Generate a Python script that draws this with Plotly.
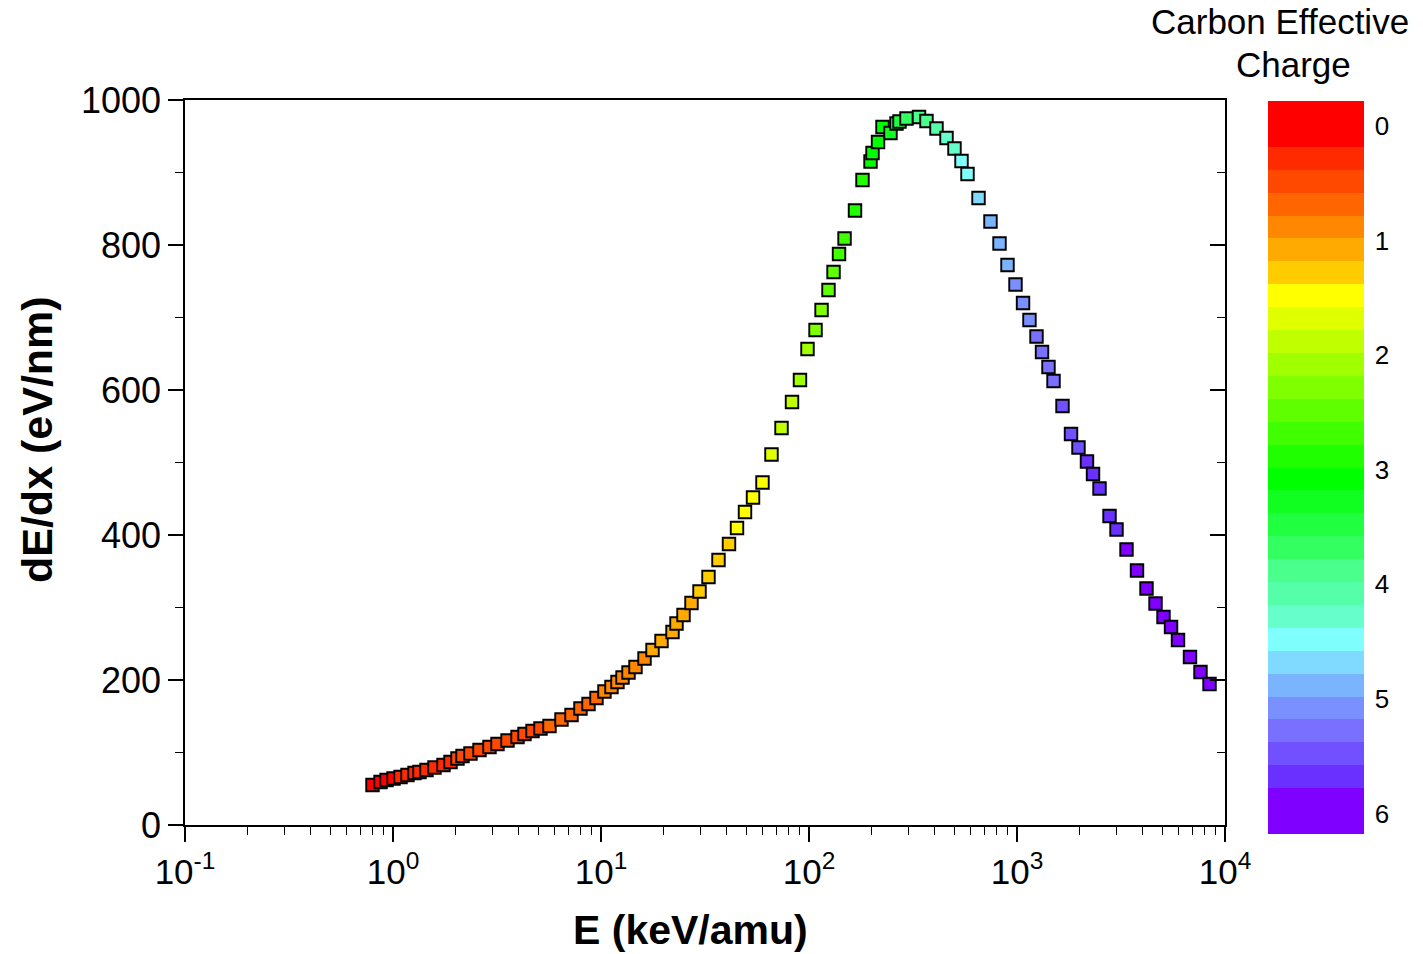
import plotly.graph_objects as go

# Stopping power of carbon ions vs. energy, coloured by effective charge
energy_kev_per_amu = [
    0.797, 0.871, 0.931, 1.006, 1.087, 1.174, 1.269, 1.341, 1.449, 1.583,
    1.749, 1.890, 2.042, 2.159, 2.358, 2.606, 2.910, 3.180, 3.553, 3.969,
    4.288, 4.686, 5.118, 5.655, 6.458, 7.215, 7.968, 8.709, 9.514, 10.39,
    11.23, 12.00, 12.69, 13.56, 14.65, 16.19, 17.69, 19.54, 22.07, 23.07,
    24.93, 27.23, 29.76, 32.87, 36.72, 41.24, 45.07, 49.24, 53.81, 59.76,
    66.02, 73.76, 82.85, 90.49, 98.35, 107.5, 114.9, 124.1, 131.2, 139.4,
    148.2, 166.4, 180.8, 197.6, 202.0, 214.7, 225.6, 246.5, 263.5, 272.4,
    294.3, 338.0, 367.1, 410.2, 458.3, 500.6, 541.0, 578.1, 653.1, 745.6,
    824.1, 900.2, 983.5, 1069, 1148, 1241, 1319, 1417, 1498, 1655,
    1818, 1975, 2170, 2320, 2493, 2785, 3009, 3361, 3775, 4194,
    4634, 5062, 5502, 5943, 6787, 7624, 8425,
]

dedx_ev_per_nm = [
    55.2, 59.3, 62.1, 64.1, 66.2, 69.0, 71.7, 73.1, 75.9, 79.3,
    82.8, 86.9, 91.7, 95.2, 98.6, 103.4, 107.6, 111.7, 116.6, 121.4,
    125.5, 129.7, 133.1, 136.6, 145.5, 151.7, 160.7, 166.9, 175.2, 184.1,
    190.3, 197.2, 203.4, 210.3, 217.9, 229.7, 241.4, 253.8, 266.2, 277.9,
    289.7, 306.2, 322.1, 342.1, 365.5, 387.6, 409.7, 431.7, 451.7, 472.4,
    511.0, 547.6, 583.4, 613.8, 656.6, 682.8, 710.3, 737.9, 762.8, 787.6,
    809.0, 847.6, 889.7, 915.2, 926.9, 942.1, 962.8, 954.5, 967.6, 970.3,
    974.5, 976.6, 971.0, 960.7, 947.6, 933.1, 915.9, 897.9, 864.8, 832.4,
    802.1, 772.4, 745.5, 720.0, 696.6, 673.8, 652.4, 631.7, 612.4, 577.9,
    539.3, 520.7, 501.4, 484.1, 464.1, 426.2, 407.6, 380.0, 351.0, 326.2,
    305.5, 286.9, 273.1, 255.2, 231.7, 211.0, 194.5,
]

effective_charge = [
    0.05, 0.10, 0.12, 0.15, 0.20, 0.22, 0.25, 0.27, 0.30, 0.32,
    0.34, 0.36, 0.38, 0.40, 0.42, 0.44, 0.46, 0.48, 0.50, 0.52,
    0.54, 0.56, 0.58, 0.60, 0.63, 0.66, 0.70, 0.73, 0.76, 0.80,
    0.83, 0.86, 0.88, 0.90, 0.93, 0.97, 1.00, 1.04, 1.08, 1.10,
    1.13, 1.17, 1.20, 1.25, 1.30, 1.35, 1.40, 1.45, 1.50, 1.55,
    1.65, 1.80, 1.92, 2.02, 2.12, 2.22, 2.30, 2.42, 2.52, 2.60,
    2.68, 2.82, 2.95, 3.05, 3.08, 3.10, 3.15, 3.30, 3.45, 3.55,
    3.65, 3.80, 3.95, 4.05, 4.20, 4.30, 4.45, 4.55, 4.68, 4.80,
    4.88, 4.95, 5.02, 5.08, 5.15, 5.20, 5.25, 5.30, 5.35, 5.42,
    5.50, 5.55, 5.60, 5.63, 5.66, 5.72, 5.75, 5.80, 5.85, 5.88,
    5.90, 5.92, 5.94, 5.95, 5.96, 5.97, 5.98,
]

charge_ticks = [0, 1, 2, 3, 4, 5, 6]
energy_ticks = [0.1, 1, 10, 100, 1000, 10000]
energy_tick_text = ["10<sup>-1</sup>", "10<sup>0</sup>", "10<sup>1</sup>",
                    "10<sup>2</sup>", "10<sup>3</sup>", "10<sup>4</sup>"]

# Stepped rainbow palette, one colour per 0.2 charge step (charge 0 -> 6)
band_colors = [
    "#FF0000", "#FF0000", "#FF2A00", "#FF4800", "#FF6600", "#FF8800",
    "#FFAA00", "#FFCC00", "#FFFF00", "#E0FF00", "#C0FF00", "#A0FF00",
    "#80FF00", "#60FF00", "#40FF00", "#20FF00", "#00FF00", "#10FF20",
    "#20FF40", "#33FF60", "#4AFF8C", "#55FFAA", "#66FFCC", "#80FFFF",
    "#80DAFF", "#7AB4FF", "#7A90FF", "#7A70FF", "#7050FF", "#6A30FF",
    "#7F00FF", "#7F00FF",
]
charge_min, charge_max = -0.22, 6.18

# The colour bar runs top-down (0 at the top), so colour on negated charge
neg_charge = [-q for q in effective_charge]
rev_colors = band_colors[::-1]
n = len(rev_colors)
colorscale = []
for i, c in enumerate(rev_colors):
    colorscale.append([i / n, c])
    colorscale.append([(i + 1) / n, c])

FONT = "Arial, Liberation Sans, sans-serif"

fig = go.Figure()

fig.add_trace(go.Scatter(
    x=energy_kev_per_amu,
    y=dedx_ev_per_nm,
    mode="markers",
    marker=dict(
        symbol="square",
        size=12.5,
        color=neg_charge,
        colorscale=colorscale,
        cmin=-charge_max,
        cmax=-charge_min,
        line=dict(color="black", width=1.9),
        showscale=True,
        colorbar=dict(
            thickness=96, thicknessmode="pixels",
            len=733, lenmode="pixels",
            x=1.0413, xanchor="left",
            y=0.9986, yanchor="top",
            xpad=0, ypad=0,
            outlinewidth=0,
            tickmode="array",
            tickvals=[-q for q in charge_ticks],
            ticktext=[str(q) for q in charge_ticks],
            ticks="outside", ticklen=6, tickcolor="rgba(0,0,0,0)",
            tickfont=dict(family=FONT, size=26, color="black"),
        ),
    ),
    customdata=effective_charge,
    hovertemplate="E=%{x}<br>dE/dx=%{y}<br>q=%{customdata}<extra></extra>",
    showlegend=False,
))

# Same series on a right-hand axis that only carries the inward ticks
fig.add_trace(go.Scatter(
    x=energy_kev_per_amu,
    y=dedx_ev_per_nm,
    yaxis="y2",
    mode="markers",
    marker=dict(opacity=0),
    hoverinfo="skip",
    showlegend=False,
))

fig.update_layout(
    width=1423, height=954,
    margin=dict(l=185, r=198, t=100, b=129),
    paper_bgcolor="white",
    plot_bgcolor="white",
    font=dict(family=FONT, color="black"),
    xaxis=dict(
        type="log", range=[-1, 4],
        tickmode="array", tickvals=energy_ticks, ticktext=energy_tick_text,
        ticks="outside", ticklen=15, tickwidth=1.5, tickcolor="black",
        minor=dict(ticks="outside", ticklen=8, tickwidth=1.2,
                   tickcolor="black", dtick="D1", showgrid=False),
        showline=True, linecolor="black", linewidth=1.6, mirror=True,
        showgrid=False, zeroline=False,
        tickfont=dict(family=FONT, size=35, color="black"),
    ),
    yaxis=dict(
        range=[0, 1000], dtick=200,
        ticks="outside", ticklen=15, tickwidth=1.5, tickcolor="black",
        minor=dict(ticks="outside", ticklen=8, tickwidth=1.2,
                   tickcolor="black", dtick=100, showgrid=False),
        showline=True, linecolor="black", linewidth=1.6, mirror=True,
        showgrid=False, zeroline=False,
        tickfont=dict(family=FONT, size=36, color="black"),
    ),
    yaxis2=dict(
        overlaying="y", side="right",
        range=[0, 1000], dtick=200,
        ticks="inside", ticklen=15, tickwidth=1.5, tickcolor="black",
        minor=dict(ticks="inside", ticklen=8, tickwidth=1.2,
                   tickcolor="black", dtick=100, showgrid=False),
        showticklabels=False, showline=False,
        showgrid=False, zeroline=False,
    ),
    annotations=[
        dict(text="<b>E (keV/amu)</b>", xref="paper", yref="paper",
             x=0.4856, y=-0.145, xanchor="center", yanchor="middle",
             showarrow=False, font=dict(family=FONT, size=41, color="black")),
        dict(text="<b>dE/dx (eV/nm)</b>", xref="paper", yref="paper",
             x=-0.1423, y=0.531, xanchor="center", yanchor="middle",
             textangle=-90,
             showarrow=False, font=dict(family=FONT, size=43, color="black")),
        dict(text="Carbon Effective", xref="paper", yref="paper",
             x=1.0529, y=1.1076, xanchor="center", yanchor="middle",
             showarrow=False, font=dict(family=FONT, size=35, color="black")),
        dict(text="Charge", xref="paper", yref="paper",
             x=1.0654, y=1.0483, xanchor="center", yanchor="middle",
             showarrow=False, font=dict(family=FONT, size=35, color="black")),
    ],
)

fig.write_html("out.html")
